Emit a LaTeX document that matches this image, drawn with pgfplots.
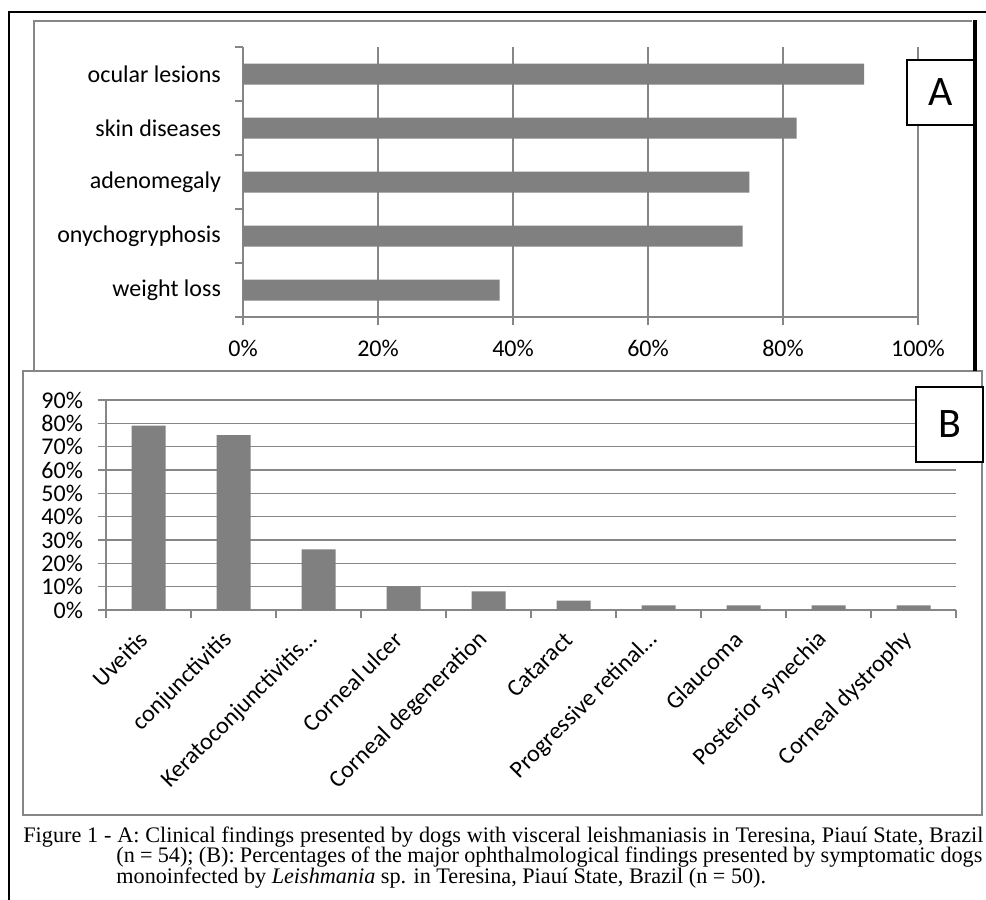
\documentclass[border=0pt]{standalone}
\usepackage{fontspec}
\setmainfont{Carlito}
\newfontfamily\capfont{Liberation Serif}
\usepackage{pgfplots}
\pgfplotsset{compat=1.18}
\definecolor{barcol}{RGB}{128,128,128}
\definecolor{gridcol}{RGB}{134,134,134}

\begin{document}
\begin{tikzpicture}
\path[use as bounding box] (0,0) rectangle (493pt,-450pt);
\begin{scope}[x=0.5pt,y=-0.5pt]
  \coordinate (A0) at (243,317);
  \coordinate (B0) at (106,610);
  % page and panel frames
  \draw[black, line width=0.6pt] (9,900) -- (9,12) -- (986,12);
  \draw[gridcol, line width=1pt] (34,371) -- (34,21) -- (972,21);
  \draw[gridcol, line width=1pt] (23,371) rectangle (982,815);
\end{scope}

% panel A: clinical findings
\begin{axis}[
    at={(A0)}, anchor=south west,
    scale only axis, width=337.5pt, height=135pt,
    xbar, bar width=10.5pt,
    xmin=0, xmax=100, ymin=-0.5, ymax=4.5,
    axis x line*=bottom, axis y line*=left,
    axis line style={gridcol, line width=0.8pt},
    xtick={0,20,...,100},
    xticklabels={0\%,20\%,40\%,60\%,80\%,100\%},
    ytick={0,...,4},
    yticklabels={weight loss,onychogryphosis,adenomegaly,skin diseases,ocular lesions},
    minor ytick={-0.5,0.5,...,4.5},
    major y tick style={draw=none},
    tick align=outside, major tick length=4pt, minor tick length=4pt,
    tick style={gridcol, line width=0.8pt},
    xmajorgrids, grid style={gridcol, line width=0.8pt},
    ticklabel style={font=\fontsize{12}{14}\selectfont},
    xticklabel shift=4pt,
    yticklabel style={xshift=-3.5pt},
]
\addplot[fill=barcol, draw=none] coordinates {(38,0) (74,1) (75,2) (82,3) (92,4)};
\end{axis}

% panel B: ophthalmological findings
\begin{axis}[
    at={(B0)}, anchor=south west,
    scale only axis, width=425pt, height=105pt,
    ybar, bar width=17pt,
    xmin=-0.5, xmax=9.5, ymin=0, ymax=90,
    axis x line*=bottom, axis y line*=left,
    axis line style={gridcol, line width=0.8pt},
    ytick={0,10,...,90},
    yticklabels={0\%,10\%,20\%,30\%,40\%,50\%,60\%,70\%,80\%,90\%},
    xtick={0,...,9},
    xticklabels={Uveitis,conjunctivitis,Keratoconjunctivitis…,Corneal ulcer,Corneal degeneration,Cataract,Progressive retinal…,Glaucoma,Posterior synechia,Corneal dystrophy},
    minor xtick={-0.5,0.5,...,9.5},
    major x tick style={draw=none},
    tick align=outside, major tick length=4pt, minor tick length=4pt,
    tick style={gridcol, line width=0.8pt},
    ymajorgrids, grid style={gridcol, line width=0.8pt},
    ticklabel style={font=\fontsize{12}{14}\selectfont},
    xticklabel style={rotate=45, anchor=east},
    xticklabel shift=6.5pt,
    yticklabel style={xshift=-4pt},
]
\addplot[fill=barcol, draw=none] coordinates {(0,79) (1,75) (2,26) (3,10) (4,8) (5,4) (6,2) (7,2) (8,2) (9,2)};
\end{axis}

\begin{scope}[x=0.5pt,y=-0.5pt]
  \node[draw=black, line width=1pt, fill=white, minimum width=34pt, minimum height=32.5pt,
        inner sep=0pt, font=\fontsize{21}{24}\selectfont] at (941,92.5) {A};
  \node[draw=black, line width=1pt, fill=white, minimum width=33.5pt, minimum height=37.5pt,
        inner sep=0pt, font=\fontsize{21}{24}\selectfont] at (949.5,424.5) {B};
  \draw[black, line width=2pt] (974.5,20) -- (974.5,371);
  % caption, one node per line
  \begin{scope}[every node/.style={anchor=base west, inner sep=0pt,
        font=\capfont\fontsize{11.1}{12}\selectfont}]
    \node at (23,842) {\makebox[480pt][s]{Figure 1 - A: Clinical findings presented by dogs with visceral leishmaniasis in Teresina, Piauí State, Brazil}};
    \node at (116,862.5) {\makebox[433pt][s]{(n = 54); (B): Percentages of the major ophthalmological findings presented by symptomatic dogs}};
    \node at (116,883.5) {monoinfected by \textit{Leishmania} sp. in Teresina, Piauí State, Brazil (n = 50).};
  \end{scope}
\end{scope}
\end{tikzpicture}
\end{document}
